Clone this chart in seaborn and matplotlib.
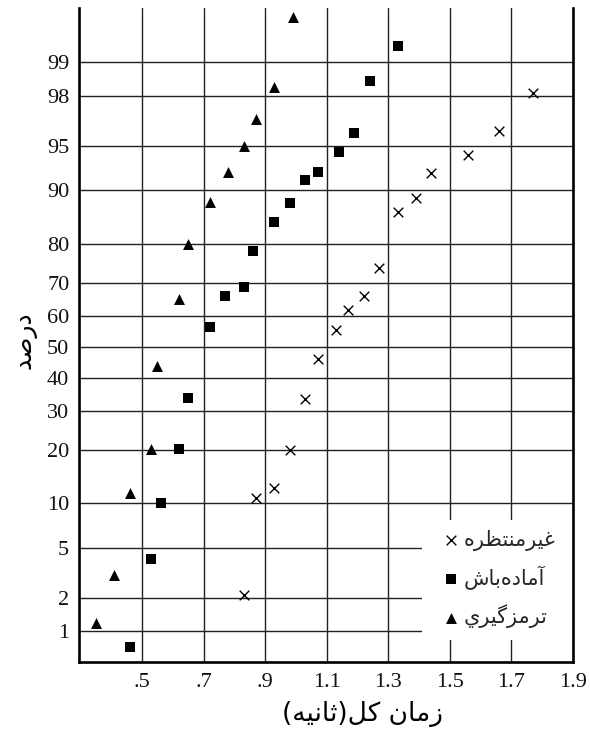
import numpy as np
import pandas as pd
import matplotlib
matplotlib.use("Agg")
import matplotlib.pyplot as plt
from matplotlib.patches import Rectangle
import seaborn as sns
from statistics import NormalDist

# Reaction (total) time in seconds and cumulative percentage for each group
unexpected_time = [1.77, 1.66, 1.56, 1.44, 1.39, 1.33, 1.27, 1.22, 1.17, 1.13,
                   1.07, 1.03, 0.98, 0.93, 0.87, 0.83]
unexpected_pct = [98.1, 96.1, 94.2, 92.2, 88.8, 86.5, 73.9, 66.2, 61.9, 55.5,
                  45.9, 33.5, 19.8, 12.4, 10.8, 2.1]

alerted_time = [1.33, 1.24, 1.19, 1.14, 1.07, 1.03, 0.98, 0.93, 0.86, 0.83,
                0.77, 0.72, 0.65, 0.62, 0.56, 0.53, 0.46]
alerted_pct = [99.3, 98.5, 96.0, 94.4, 92.3, 91.3, 88.0, 84.6, 78.4, 68.8,
               66.0, 56.5, 33.8, 20.2, 10.0, 4.1, 0.7]

braking_time = [0.99, 0.93, 0.87, 0.83, 0.78, 0.72, 0.65, 0.62, 0.55, 0.53,
                0.46, 0.41, 0.35]
braking_pct = [99.65, 98.3, 96.9, 95.0, 92.4, 88.2, 80.0, 65.2, 43.8, 20.2,
               11.5, 3.1, 1.2]

group_names = ["غیرمنتظره", "آماده‌باش", "ترمزگيري"]
group_markers = ["x", "s", "^"]

x_ticks = [0.5, 0.7, 0.9, 1.1, 1.3, 1.5, 1.7, 1.9]
x_ticklabels = [".5", ".7", ".9", "1.1", "1.3", "1.5", "1.7", "1.9"]
y_ticks = [1, 2, 5, 10, 20, 30, 40, 50, 60, 70, 80, 90, 95, 98, 99]

x_label = "زمان کل(ثانیه)"
y_label = "درصد"

# --- minimal Arabic-script shaping (contextual forms + right-to-left order) ---
_FORMS = {
    "آ": ("\uFE81", "\uFE82", None, None),
    "ا": ("\uFE8D", "\uFE8E", None, None),
    "ب": ("\uFE8F", "\uFE90", "\uFE91", "\uFE92"),
    "ت": ("\uFE95", "\uFE96", "\uFE97", "\uFE98"),
    "ث": ("\uFE99", "\uFE9A", "\uFE9B", "\uFE9C"),
    "د": ("\uFEA9", "\uFEAA", None, None),
    "ر": ("\uFEAD", "\uFEAE", None, None),
    "ز": ("\uFEAF", "\uFEB0", None, None),
    "ش": ("\uFEB5", "\uFEB6", "\uFEB7", "\uFEB8"),
    "ص": ("\uFEB9", "\uFEBA", "\uFEBB", "\uFEBC"),
    "ظ": ("\uFEC5", "\uFEC6", "\uFEC7", "\uFEC8"),
    "غ": ("\uFECD", "\uFECE", "\uFECF", "\uFED0"),
    "ل": ("\uFEDD", "\uFEDE", "\uFEDF", "\uFEE0"),
    "م": ("\uFEE1", "\uFEE2", "\uFEE3", "\uFEE4"),
    "ن": ("\uFEE5", "\uFEE6", "\uFEE7", "\uFEE8"),
    "ه": ("\uFEE9", "\uFEEA", "\uFEEB", "\uFEEC"),
    "ي": ("\uFEF1", "\uFEF2", "\uFEF3", "\uFEF4"),
    "ک": ("\uFB8E", "\uFB8F", "\uFB90", "\uFB91"),
    "گ": ("\uFB92", "\uFB93", "\uFB94", "\uFB95"),
    "ی": ("\uFBFC", "\uFBFD", "\uFBFE", "\uFBFF"),
}
_MIRROR = {"(": ")", ")": "("}


def shape(text):
    out = []
    for i, ch in enumerate(text):
        if ch not in _FORMS:
            if ch != "\u200c":
                out.append(_MIRROR.get(ch, ch))
            continue
        prev = text[i - 1] if i > 0 else None
        nxt = text[i + 1] if i + 1 < len(text) else None
        iso, fin, ini, med = _FORMS[ch]
        join_prev = prev in _FORMS and _FORMS[prev][2] is not None
        join_next = ini is not None and nxt in _FORMS
        if join_prev and join_next:
            out.append(med)
        elif join_prev:
            out.append(fin)
        elif join_next:
            out.append(ini)
        else:
            out.append(iso)
    return "".join(reversed(out))


# --- normal-probability axis ---
_nd = NormalDist()


def to_z(p):
    p = np.clip(np.asarray(p, dtype=float), 1e-6, 100 - 1e-6)
    return np.vectorize(lambda v: _nd.inv_cdf(v / 100.0), otypes=[float])(p)


def from_z(z):
    z = np.asarray(z, dtype=float)
    return np.vectorize(lambda v: 100.0 * _nd.cdf(v), otypes=[float])(z)


df = pd.concat([
    pd.DataFrame({"time": unexpected_time, "pct": unexpected_pct, "group": group_names[0]}),
    pd.DataFrame({"time": alerted_time, "pct": alerted_pct, "group": group_names[1]}),
    pd.DataFrame({"time": braking_time, "pct": braking_pct, "group": group_names[2]}),
], ignore_index=True)

sns.set_theme(style="white")
plt.rcParams["font.family"] = ["Liberation Serif", "DejaVu Sans"]

fig = plt.figure(figsize=(5.9, 7.33), dpi=100)
ax = fig.add_axes([79 / 590, 1 - 662 / 733, 494 / 590, 654 / 733])
ax.set_yscale("function", functions=(to_z, from_z))

marker_style = {
    "x": dict(s=48, linewidth=1.0),
    "s": dict(s=62, linewidth=0),
    "^": dict(s=62, linewidth=0),
}
for name, mk in zip(group_names, group_markers):
    sns.scatterplot(data=df[df["group"] == name], x="time", y="pct", ax=ax,
                    marker=mk, color="black", edgecolor="black",
                    label=shape(name), zorder=3, **marker_style[mk])

ax.set_xlim(0.295, 1.9)
ax.set_ylim(0.4945, 99.72)
ax.set_xticks(x_ticks)
ax.set_xticklabels(x_ticklabels)
ax.set_yticks(y_ticks)
ax.set_yticklabels([str(v) for v in y_ticks])
ax.minorticks_off()
ax.tick_params(axis="both", length=0, labelsize=16, colors="#111111")
ax.tick_params(axis="x", pad=8)
ax.tick_params(axis="y", pad=7)

ax.grid(True, color="#222222", linewidth=1.0)
ax.set_axisbelow(True)
for side in ("left", "bottom", "right"):
    ax.spines[side].set_visible(True)
    ax.spines[side].set_color("black")
    ax.spines[side].set_linewidth(1.9)
ax.spines["top"].set_visible(False)

ax.set_xlabel(shape(x_label), family="DejaVu Sans", fontsize=19, color="black")
ax.xaxis.label.set_verticalalignment("center")
ax.xaxis.set_label_coords((362 - 79) / 494, (662 - 714) / 654)
ax.set_ylabel(shape(y_label), family="DejaVu Sans", fontsize=18, color="black")
ax.yaxis.label.set_verticalalignment("center")
ax.yaxis.set_label_coords((24 - 79) / 494, (662 - 340) / 654)

# white panel behind the key, masking the grid in the lower-right corner
ax.add_patch(Rectangle(((422 - 79) / 494, (662 - 640) / 654),
                       (573 - 422) / 494, (640 - 520) / 654,
                       transform=ax.transAxes, facecolor="white",
                       edgecolor="none", zorder=1))

handles, labels = ax.get_legend_handles_labels()
leg = ax.legend(handles, labels, loc="center left",
                bbox_to_anchor=((445 - 79) / 494, (662 - 579) / 654),
                frameon=False, prop={"family": "DejaVu Sans", "size": 15},
                handlelength=0.6, handletextpad=0.3, labelspacing=0.7,
                borderpad=0.0, borderaxespad=0.0)
leg.set_zorder(5)

fig.savefig("out.png", dpi=100)
